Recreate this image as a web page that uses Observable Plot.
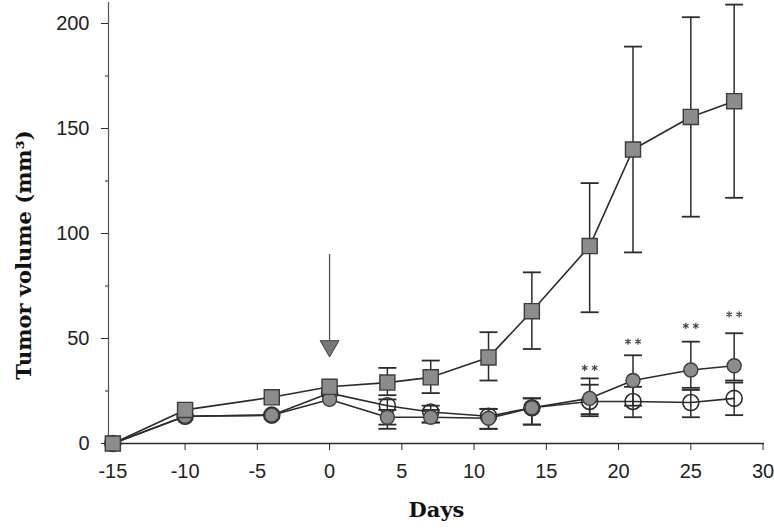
<!DOCTYPE html>
<html>
<head>
<meta charset="utf-8">
<script src="https://cdn.jsdelivr.net/npm/d3@7"></script>
<script src="https://cdn.jsdelivr.net/npm/@observablehq/plot@0.6"></script>
<style>
  html, body { margin: 0; padding: 0; background: #fff; }
  #chart svg { display: block; }
</style>
</head>
<body>
<div id="chart"></div>
<script>
// ---- data ----
const days = [-15, -10, -4, 0, 4, 7, 11, 14, 18, 21, 25, 28];

// filled squares (control)
const squareMean = [0, 16, 22, 27, 29, 31.5, 41, 63, 94, 140, 155.5, 163];
const squareLow  = [null, null, null, null, 23, 24, 30, 45, 62.5, 91, 108, 117];
const squareHigh = [null, null, null, null, 36, 39.5, 53, 81.5, 124, 189, 203, 209];

// filled circles
const filledMean = [0, 13, 13.5, 21, 12.5, 12.5, 12, 17, 21.5, 30, 35, 37];
const filledLow  = [null, null, null, null, 7, 10, 7, 9, 14, 18, 26.5, 30];
const filledHigh = [null, null, null, null, 16, 16, 16.5, 21.5, 31, 42, 48.5, 52.5];

// open circles
const openMean = [0, 13, 13.5, 24, 18, 15, 13, 17, 20, 20, 19.5, 21.5];
const openLow  = [null, null, null, null, 9, 10, 7, 9, 13, 12.5, 12.5, 13.5];
const openHigh = [null, null, null, null, 21, 18, 16.5, 21.5, 28, 27, 25.5, 29];

// significance stars (two per day) above the filled-circle series
const starDays = [18, 21, 25, 28];
const starValues = [36, 48.5, 56, 61.5];

// treatment arrow
const arrowDays = [0];
const arrowFrom = [90];
const arrowTo = [44];

// axes
const xDomain = [-15.3, 30.1];
const yDomain = [0, 210];
const xTicks = [-15, -10, -5, 0, 5, 10, 15, 20, 25, 30];
const yTicks = [0, 50, 100, 150, 200];
const yMinorTicks = [25, 75, 125, 175];
const xLabel = "Days";
const yLabel = "Tumor volume (mm³)";

// ---- build tables ----
function series(mean, low, high) {
  return days.map((d, i) => ({day: d, v: mean[i], lo: low[i], hi: high[i]}));
}
const squares = series(squareMean, squareLow, squareHigh);
const filled = series(filledMean, filledLow, filledHigh);
const open = series(openMean, openLow, openHigh);
const stars = starDays.map((d, i) => ({day: d, v: starValues[i]}));
const arrow = arrowDays.map((d, i) => ({day: d, from: arrowFrom[i], to: arrowTo[i]}));

const withErr = s => s.filter(d => d.lo != null && d.hi != null);

// horizontal cap symbol for error bars
const capSymbol = {
  draw(context, size) {
    const w = Math.sqrt(size / Math.PI);
    context.moveTo(-w, 0);
    context.lineTo(w, 0);
  }
};

const ink = "#2b2b2b";
const markFill = "#8c8c8c";
const markStroke = "#3c3c3c";

function errorMarks(s) {
  const e = withErr(s);
  return [
    Plot.ruleX(e, {x: "day", y1: "lo", y2: "hi", stroke: ink, strokeWidth: 1.5}),
    Plot.dot(e, {x: "day", y: "hi", symbol: capSymbol, r: 9, fill: "none", stroke: ink, strokeWidth: 1.8}),
    Plot.dot(e, {x: "day", y: "lo", symbol: capSymbol, r: 9, fill: "none", stroke: ink, strokeWidth: 1.8})
  ];
}

const chart = Plot.plot({
  width: 774,
  height: 531,
  marginLeft: 108,
  marginRight: 10,
  marginTop: 2,
  marginBottom: 88,
  x: {domain: xDomain},
  y: {domain: yDomain},
  style: {fontFamily: "Liberation Sans, Arial, sans-serif", fontSize: "20px", color: "#222", background: "#fff"},
  marks: [
    // axis lines
    Plot.ruleY([0], {stroke: ink, strokeWidth: 1.5}),
    Plot.ruleX([xDomain[0]], {stroke: "#555", strokeWidth: 1.2}),
    Plot.axisX({ticks: xTicks, tickSize: 7, tickPadding: 13, tickFormat: d => String(d), label: null, fontSize: 20, stroke: ink}),
    Plot.axisY({ticks: yTicks, tickSize: 7, tickPadding: 12, label: null, fontSize: 20, stroke: ink}),
    Plot.axisY({ticks: yMinorTicks, tickSize: 3, tickFormat: () => "", label: null, stroke: ink}),

    // error bars
    ...errorMarks(squares),
    ...errorMarks(filled),
    ...errorMarks(open),

    // lines
    Plot.line(squares, {x: "day", y: "v", stroke: ink, strokeWidth: 1.6}),
    Plot.line(filled, {x: "day", y: "v", stroke: ink, strokeWidth: 1.6}),
    Plot.line(open, {x: "day", y: "v", stroke: ink, strokeWidth: 1.6}),

    // markers
    Plot.dot(open, {x: "day", y: "v", r: 8, symbol: "circle", fill: "none", stroke: ink, strokeWidth: 1.6}),
    Plot.dot(filled, {x: "day", y: "v", r: 7, symbol: "circle", fill: markFill, stroke: markStroke, strokeWidth: 1.4}),
    Plot.dot(squares, {x: "day", y: "v", r: 8.5, symbol: "square", fill: markFill, stroke: markStroke, strokeWidth: 1.4}),

    // stars (pair)
    Plot.dot(stars, {x: "day", y: "v", symbol: "asterisk", r: 3, stroke: "#444", strokeWidth: 1.2, dx: -5}),
    Plot.dot(stars, {x: "day", y: "v", symbol: "asterisk", r: 3, stroke: "#444", strokeWidth: 1.2, dx: 5}),

    // arrow
    Plot.ruleX(arrow, {x: "day", y1: "from", y2: "to", stroke: "#555", strokeWidth: 1.3}),
    Plot.dot(arrow, {x: "day", y: "to", symbol: "triangle", rotate: 180, r: 7, fill: "#777", stroke: "#444", strokeWidth: 1, dy: -5}),

    // axis titles
    Plot.text([xLabel], {frameAnchor: "bottom", dy: 73, text: d => d, fontFamily: "DejaVu Serif, serif", fontWeight: "bold", fontSize: 21, fill: "#111"}),
    Plot.text([yLabel], {frameAnchor: "left", textAnchor: "middle", rotate: -90, dx: -84, dy: 32, text: d => d, fontFamily: "DejaVu Serif, serif", fontWeight: "bold", fontSize: 21, fill: "#111"})
  ]
});
document.getElementById("chart").append(chart);
</script>
</body>
</html>
